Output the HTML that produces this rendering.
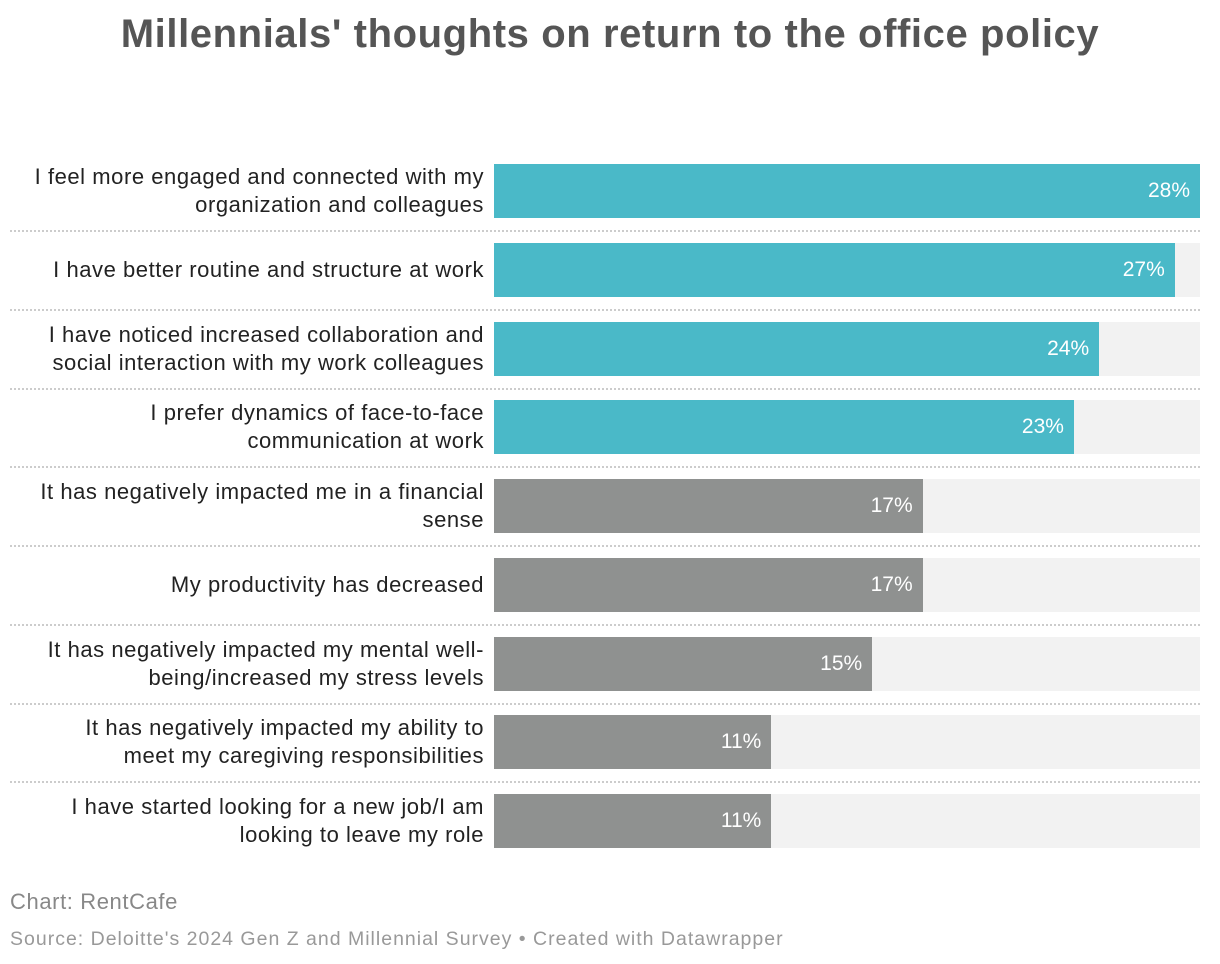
<!DOCTYPE html>
<html><head><meta charset="utf-8"><style>
body{margin:0;width:1220px;height:964px;background:#fff;font-family:"Liberation Sans",sans-serif;position:relative;overflow:hidden}
h1{position:absolute;top:12px;left:0;width:1220px;text-align:center;margin:0;font-size:40px;font-weight:bold;color:#555;letter-spacing:0.6px}
.lbl{position:absolute;right:736px;width:480px;text-align:right;font-size:22px;line-height:28px;color:#222;display:flex;align-items:center;justify-content:flex-end;letter-spacing:0.55px}
.bg{position:absolute;left:494px;width:706px;height:54px;background:#f2f2f2}
.bar{position:absolute;left:494px;height:54px}
.val{position:absolute;font-size:21px;color:#fff;line-height:54px;text-align:right}
.sep{position:absolute;left:10px;width:1190px;border-top:2px dotted #ccc}
.foot{position:absolute;left:10px;color:#888}
</style></head><body>
<h1>Millennials' thoughts on return to the office policy</h1>
<div id="chart"></div>
<div class="foot" style="top:889px;font-size:22px;letter-spacing:0.6px">Chart: RentCafe</div>
<div class="foot" style="top:928px;font-size:19.5px;color:#999;letter-spacing:1px">Source: Deloitte's 2024 Gen Z and Millennial Survey • Created with Datawrapper</div>
<script>
const categories=["I feel more engaged and connected with my<br>organization and colleagues","I have better routine and structure at work","I have noticed increased collaboration and<br>social interaction with my work colleagues","I prefer dynamics of face-to-face<br>communication at work","It has negatively impacted me in a financial<br>sense","My productivity has decreased","It has negatively impacted my mental well-<br>being/increased my stress levels","It has negatively impacted my ability to<br>meet my caregiving responsibilities","I have started looking for a new job/I am<br>looking to leave my role"];
const values=[28,27,24,23,17,17,15,11,11];
const positive=[true,true,true,true,false,false,false,false,false];
const xMax=28;
const x0=494,plotW=706,top0=164,step=78.75,bh=54;
function xs(v){return v/xMax*plotW;}
function ys(i){return Math.round(top0+i*step);}
const c=document.getElementById('chart');
values.forEach((v,i)=>{
  const y=ys(i);
  const l=document.createElement('div');l.className='lbl';l.style.top=y+'px';l.style.height=bh+'px';l.innerHTML='<span>'+categories[i]+'</span>';
  
  
  c.appendChild(l);
  const bg=document.createElement('div');bg.className='bg';bg.style.top=y+'px';
  
  
  c.appendChild(bg);
  const b=document.createElement('div');b.className='bar';b.style.top=y+'px';b.style.width=xs(v)+'px';b.style.background=positive[i]?'#4ab9c8':'#8f9190';
  
  
  c.appendChild(b);
  const t=document.createElement('div');t.className='val';t.style.top=y+'px';t.style.left=(x0+xs(v)-110)+'px';t.style.width='100px';t.textContent=v+'%';
  
  
  c.appendChild(t);
  if(i<values.length-1){const s=document.createElement('div');s.className='sep';s.style.top=(y+bh+12)+'px';
  
  
  c.appendChild(s);}
});
</script>
</body></html>
